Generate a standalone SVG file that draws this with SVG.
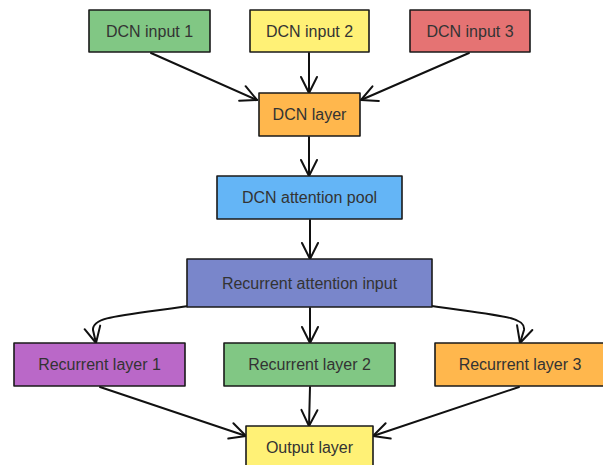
<svg xmlns="http://www.w3.org/2000/svg" width="603" height="465" viewBox="0 0 603 465">
<style>
.box{stroke:#1a1a1a;stroke-width:1.6;stroke-linejoin:round}
.lbl{font-family:"Liberation Sans",Arial,sans-serif;font-size:16px;fill:#333;text-anchor:middle;dominant-baseline:central}
.edge{fill:none;stroke:#111;stroke-width:2;stroke-linecap:round;marker-end:url(#arr)}
</style>
<defs>
<marker id="arr" viewBox="0 0 20 20" refX="18" refY="10" markerWidth="20" markerHeight="20" markerUnits="userSpaceOnUse" orient="auto">
<path d="M2,2 L18,10 L2,18" fill="none" stroke="#111" stroke-width="2" stroke-linecap="round" stroke-linejoin="round"/>
</marker>
</defs>
<g id="connectors">
<path class="edge" d="M151,53 L257,100"/>
<path class="edge" d="M309,53 L309,93"/>
<path class="edge" d="M469,53 L361,100"/>
<path class="edge" d="M309,137 L309,176"/>
<path class="edge" d="M310,220 L310,259"/>
<path class="edge" d="M203,304 C120,316 92,316 93,330 L96,343"/>
<path class="edge" d="M310,308 L310,343"/>
<path class="edge" d="M418,304 C500,316 526,316 524,330 L520,343"/>
<path class="edge" d="M100,387 L246,436"/>
<path class="edge" d="M310,387 L309,426"/>
<path class="edge" d="M519,387 L373,436"/>
</g>
<g id="dcn_input_1"><rect class="box" x="89" y="10" width="121" height="42" fill="#81C784"/><text class="lbl" x="149.5" y="31">DCN input 1</text></g>
<g id="dcn_input_2"><rect class="box" x="250" y="10" width="119" height="42" fill="#FFF176"/><text class="lbl" x="309.5" y="31">DCN input 2</text></g>
<g id="dcn_input_3"><rect class="box" x="410" y="10" width="120" height="42" fill="#E57373"/><text class="lbl" x="470" y="31">DCN input 3</text></g>
<g id="dcn_layer"><rect class="box" x="259" y="93" width="101" height="43" fill="#FFB74D"/><text class="lbl" x="309.5" y="114.5">DCN layer</text></g>
<g id="dcn_attention_pool"><rect class="box" x="217" y="176" width="185" height="43" fill="#64B5F6"/><text class="lbl" x="309.5" y="197.5">DCN attention pool</text></g>
<g id="recurrent_attention_input"><rect class="box" x="187" y="259" width="245" height="48" fill="#7986CB"/><text class="lbl" x="309.5" y="283">Recurrent attention input</text></g>
<g id="recurrent_layer_1"><rect class="box" x="14" y="343" width="171" height="43" fill="#BA68C8"/><text class="lbl" x="99.5" y="364.5">Recurrent layer 1</text></g>
<g id="recurrent_layer_2"><rect class="box" x="224" y="343" width="171" height="43" fill="#81C784"/><text class="lbl" x="309.5" y="364.5">Recurrent layer 2</text></g>
<g id="recurrent_layer_3"><rect class="box" x="435" y="343" width="172" height="43" fill="#FFB74D"/><text class="lbl" x="520" y="364.5">Recurrent layer 3</text></g>
<g id="output_layer"><rect class="box" x="246" y="426" width="127" height="43" fill="#FFF176"/><text class="lbl" x="309.5" y="447">Output layer</text></g>
</svg>
